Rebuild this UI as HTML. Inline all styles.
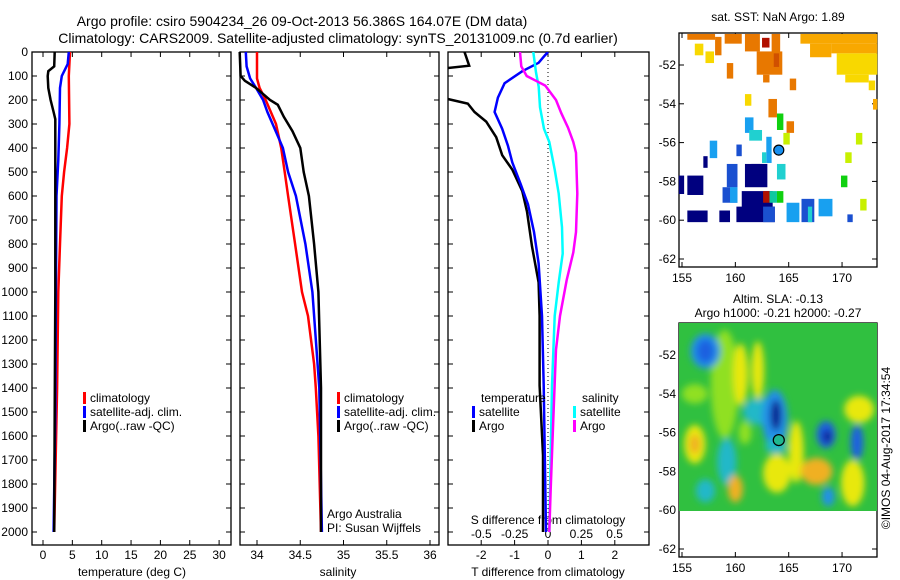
<!DOCTYPE html>
<html><head><meta charset="utf-8"><style>
body{margin:0;background:#fff}
svg{display:block;font-family:"Liberation Sans",sans-serif}
text{fill:#000}
</style></head><body>
<svg id="c" width="900" height="580" viewBox="0 0 900 580" xmlns="http://www.w3.org/2000/svg">
<defs>
<filter id="blur" x="-50%" y="-50%" width="200%" height="200%"><feGaussianBlur stdDeviation="3.5"/></filter>
<clipPath id="clipSla"><rect x="679" y="323" width="198" height="188"/></clipPath>
<clipPath id="clipP3"><rect x="448" y="52" width="201" height="493"/></clipPath>
</defs>
<text x="302" y="26" font-size="14" text-anchor="middle">Argo profile: csiro 5904234_26 09-Oct-2013 56.386S 164.07E (DM data)</text>
<text x="338" y="43" font-size="14" text-anchor="middle">Climatology: CARS2009. Satellite-adjusted climatology: synTS_20131009.nc (0.7d earlier)</text>
<g id="g"></g>
<text transform="translate(890,448) rotate(-90)" font-size="12" text-anchor="middle">©IMOS 04-Aug-2017 17:34:54</text>
</svg>
<script>
// ---- profile data (depth m) ----
const tClimD=[0,100,300,400,500,600,800,1000,1400,2000];
const tClimV=[4.6,4.4,4.5,4.1,3.6,3.2,2.9,2.6,2.4,1.9];
const tSatD=[0,50,100,150,300,450,600,1000,1500,2000];
const tSatV=[4.4,4.2,3.2,2.9,2.8,2.6,2.3,2.2,2.1,1.8];
const tArgoD=[0,60,80,100,150,200,250,280,600,1000,1500,2000];
const tArgoV=[2.0,1.9,0.9,0.8,0.9,1.3,1.8,2.1,2.1,2.1,2.0,1.9];
const sClimD=[0,110,150,200,300,400,500,600,800,1000,1100,1300,1400,1600,2000];
const sClimV=[34.0,34.0,34.03,34.1,34.22,34.28,34.32,34.36,34.44,34.52,34.59,34.66,34.68,34.71,34.74];
const sSatD=[0,60,110,150,200,250,300,350,400,500,600,800,1000,1400,2000];
const sSatV=[33.87,33.88,33.92,33.99,34.07,34.12,34.18,34.24,34.3,34.36,34.45,34.56,34.64,34.72,34.75];
const sArgoD=[0,100,120,150,200,220,270,330,400,500,600,800,1000,1400,2000];
const sArgoV=[33.8,33.81,33.86,33.99,34.15,34.24,34.31,34.41,34.5,34.54,34.6,34.66,34.71,34.74,34.74];
const dTSatD=[0,15,45,80,130,190,250,320,390,460,550,635,750,880,1100,1390,2000];
const dTSatV=[0,-0.1,-0.28,-0.77,-1.3,-1.5,-1.6,-1.37,-1.2,-1.07,-0.82,-0.6,-0.42,-0.28,-0.18,-0.13,-0.06];
const dTArgoD=[0,57,70,90,180,194,215,250,290,355,430,490,580,665,810,960,1100,1390,1680,2000];
const dTArgoV=[-2.5,-2.36,-3.2,-3.5,-3.5,-3.05,-2.4,-2.2,-1.85,-1.55,-1.37,-1.07,-0.77,-0.63,-0.48,-0.28,-0.25,-0.25,-0.15,-0.15];
const dSSatD=[0,85,145,230,320,375,490,590,730,840,960,1100,1390,1680,2000];
const dSSatV=[-0.11,-0.09,-0.07,-0.06,-0.03,0.01,0.05,0.08,0.105,0.11,0.08,0.05,0.03,0.02,0.01];
const dSArgoD=[0,60,100,120,140,200,255,315,375,420,590,750,835,950,1100,1240,1530,1820,2000];
const dSArgoV=[-0.21,-0.2,-0.16,-0.09,-0.02,0.06,0.1,0.15,0.19,0.21,0.22,0.21,0.19,0.14,0.09,0.06,0.04,0.02,0.01];
const depthTicks=[0,100,200,300,400,500,600,700,800,900,1000,1100,1200,1300,1400,1500,1600,1700,1800,1900,2000];
const tTicks=[0,5,10,15,20,25,30];
const sTicks=[34,34.5,35,35.5,36];
const dTTicks=[-2,-1,0,1,2];
const dSTicks=[-0.5,-0.25,0,0.25,0.5];
const dSTickLabels=['-0.5','-0.25','0','0.25','0.5'];
// ---- SST map cells [lon1,lon2,latTop,latBottom,value] ----
const sstCells=[[155.5,158.1,-50.4,-50.7,8],[158.1,158.7,-50.55,-51.5,8],[156.2,157.0,-50.9,-51.5,6.5],[157.2,158.0,-51.3,-51.9,6.5],[159.2,159.8,-51.9,-52.7,8],[159.0,160.6,-50.4,-50.9,8],[160.9,162.3,-50.4,-51.3,8],[162.5,163.2,-50.6,-51.1,10],[162.0,164.4,-51.3,-52.5,8.3],[163.4,164.2,-50.4,-51.4,8.3],[163.6,164.1,-51.4,-52.1,9.5],[162.6,163.2,-52.5,-52.9,8],[165.1,165.7,-52.7,-53.3,8],[166.1,173.3,-50.4,-50.9,7.6],[167.0,169.0,-50.9,-51.6,7.6],[169.0,173.3,-50.9,-51.4,7.3],[169.5,173.3,-51.4,-52.5,6.8],[170.3,172.5,-52.5,-52.9,6.8],[172.5,173.1,-52.8,-53.3,6.5],[172.9,173.3,-53.75,-54.3,7.8],[160.9,161.5,-53.5,-54.1,6.3],[163.1,163.9,-53.75,-54.7,8],[163.9,164.5,-54.5,-55.35,4.5],[164.8,165.5,-54.9,-55.5,8],[164.5,165.1,-55.5,-56.1,6],[160.9,161.7,-54.7,-55.5,2.8],[161.3,162.5,-55.35,-55.9,3.2],[162.9,163.4,-55.7,-57.05,2],[162.5,162.9,-56.5,-57.05,3.4],[157.6,158.3,-55.9,-56.8,2.3],[160.1,160.6,-56.1,-56.7,1.2],[157.0,157.4,-56.7,-57.3,0.2],[159.2,160.2,-57.1,-58.3,1.1],[160.9,163.0,-57.1,-58.3,0.9],[161.5,162.3,-57.1,-57.7,0.2],[163.9,164.7,-57.1,-57.9,3.2],[154.7,155.2,-57.7,-58.65,0.3],[155.5,157.0,-57.7,-58.7,0],[158.8,160.2,-58.3,-59.1,1.1],[159.5,160.2,-58.3,-59.1,2],[160.6,163.5,-58.5,-59.6,0.2],[162.6,163.2,-58.5,-59.1,10],[163.2,163.9,-58.5,-59.1,3.5],[163.9,164.5,-58.5,-59.1,4.5],[155.5,157.4,-59.5,-60.1,0],[158.5,159.5,-59.5,-60.1,0],[160.1,163.7,-59.3,-60.1,0.3],[162.6,163.7,-59.3,-60.1,1.5],[164.8,166.0,-59.1,-60.1,2],[166.2,167.4,-58.9,-60.1,1.5],[166.8,167.2,-59.3,-60.1,3],[167.8,169.1,-58.9,-59.8,2.2],[169.9,170.5,-57.7,-58.3,4.5],[170.3,170.9,-56.5,-57.05,5.6],[171.3,171.9,-55.5,-56.1,5.8],[171.7,172.3,-58.9,-59.5,5.8],[170.5,171.0,-59.7,-60.1,1.3]];
// ---- SLA blobs [lon,lat,rLon,rLat,value] ----
const slaBlobs=[[159,-53.5,1.3,2.8,0.25],[156.2,-54,1.2,0.5,0.25],[157.2,-51.8,1.4,0.9,-0.3],[157.2,-51.8,0.8,0.6,-0.55],[162.3,-54.9,1.6,0.7,-0.15],[163.7,-55.3,1.2,1.5,-0.35],[163.8,-55.1,0.5,0.8,-0.85],[159.2,-57.5,0.9,1.2,-0.15],[157.2,-59,0.9,0.6,-0.12],[156.2,-56.6,1.0,1.0,0.4],[156.2,-56.6,0.5,0.5,0.55],[160.5,-53.0,0.7,1.6,0.4],[162.1,-52.8,0.6,1.5,0.35],[160.9,-56.0,0.6,0.6,0.25],[160.0,-58.9,0.7,0.7,0.5],[163.9,-58.1,1.3,1.0,0.45],[165.7,-57.0,0.7,1.6,0.35],[167.6,-58.0,1.5,0.7,0.5],[171.0,-58.6,1.1,1.2,0.4],[171.6,-54.8,1.4,0.7,0.45],[168.5,-56.1,0.9,0.7,-0.45],[168.6,-56.2,0.4,0.35,-0.7],[171.4,-56.5,0.6,0.9,-0.45],[168.7,-59.3,0.6,0.5,-0.35],[163.8,-56.7,1.0,0.4,-0.12]];
const argoLon=164.07, argoLat=-56.386;

const NS='http://www.w3.org/2000/svg';
const g=document.getElementById('g');
function el(tag,attrs,parent){const e=document.createElementNS(NS,tag);for(const k in attrs)e.setAttribute(k,attrs[k]);(parent||g).appendChild(e);return e;}
function txt(x,y,s,size,anchor,parent){const e=el('text',{x:x,y:y,'font-size':size,'text-anchor':anchor||'start'},parent);e.textContent=s;return e;}
const yD=d=>52+d*0.24;
const xT=t=>43+t*5.87;
const xS=s=>257+(s-34)*86.5;
const xDT=t=>548+t*33.4;
const xDS=s=>548+s*133.3;
const PB=545;
const panels=[{x0:32,x1:231,name:'temperature-panel'},{x0:240,x1:439,name:'salinity-panel'},{x0:448,x1:649,name:'difference-panel'}];
panels.forEach(p=>{
 const r=el('rect',{x:p.x0,y:52,width:p.x1-p.x0,height:PB-52,fill:'none',stroke:'#000','stroke-width':1.3});
 
 
 depthTicks.forEach(d=>{el('line',{x1:p.x0,x2:p.x0+5,y1:yD(d),y2:yD(d),stroke:'#000'});el('line',{x1:p.x1,x2:p.x1-5,y1:yD(d),y2:yD(d),stroke:'#000'});});
});
depthTicks.forEach(d=>{const t=txt(28,yD(d)+4,String(d),12,'end');});
function xticks(vals,fx,labels,ly){vals.forEach((v,i)=>{const x=fx(v);el('line',{x1:x,x2:x,y1:PB,y2:PB-5,stroke:'#000'});el('line',{x1:x,x2:x,y1:52,y2:57,stroke:'#000'});const t=txt(x,ly,labels?labels[i]:String(v),12,'middle');});}
xticks(tTicks,xT,null,559);xticks(sTicks,xS,null,559);xticks(dTTicks,xDT,null,559);
dSTicks.forEach((v,i)=>{const t=txt(xDS(v),538,dSTickLabels[i],12,'middle');});
let t;
t=txt(132,576,'temperature (deg C)',12,'middle');
t=txt(338,576,'salinity',12,'middle');
t=txt(548,576,'T difference from climatology',12,'middle');
t=txt(548,524,'S difference from climatology',12,'middle');
function line(D,V,fx,color,name,clip){const pts=D.map((d,i)=>fx(V[i]).toFixed(1)+','+yD(d).toFixed(1)).join(' ');const a={points:pts,fill:'none',stroke:color,'stroke-width':2.5};if(clip)a['clip-path']='url(#clipP3)';const e=el('polyline',a);}
line(tClimD,tClimV,xT,'#f00','temp-climatology-line');
line(tSatD,tSatV,xT,'#00f','temp-satellite-line');
line(tArgoD,tArgoV,xT,'#000','temp-argo-line');
line(sClimD,sClimV,xS,'#f00','sal-climatology-line');
line(sSatD,sSatV,xS,'#00f','sal-satellite-line');
line(sArgoD,sArgoV,xS,'#000','sal-argo-line');
const z=el('line',{x1:xDT(0),x2:xDT(0),y1:52,y2:yD(2000),stroke:'#000','stroke-dasharray':'1,3'});
line(dTArgoD,dTArgoV,xDT,'#000','t-diff-argo-line',true);
line(dTSatD,dTSatV,xDT,'#00f','t-diff-satellite-line',true);
line(dSSatD,dSSatV,xDS,'#0ff','s-diff-satellite-line',true);
line(dSArgoD,dSArgoV,xDS,'#f0f','s-diff-argo-line',true);
function legend(x,y,color,label){const b=el('rect',{x:x,y:y-10,width:3,height:12,fill:color});const tt=txt(x+7,y,label,12,'start');}
legend(83,402,'#f00','climatology');legend(83,416,'#00f','satellite-adj. clim.');legend(83,430,'#000','Argo(..raw -QC)');
legend(337,402,'#f00','climatology');legend(337,416,'#00f','satellite-adj. clim.');legend(337,430,'#000','Argo(..raw -QC)');
t=txt(481,402,'temperature',12,'start');
t=txt(582,402,'salinity',12,'start');
legend(472,416,'#00f','satellite');legend(472,430,'#000','Argo');legend(573,416,'#0ff','satellite');legend(573,430,'#f0f','Argo');
t=txt(327,518,'Argo Australia',12,'start');
t=txt(327,532,'PI: Susan Wijffels',12,'start');

// ---- maps ----
const mLon=lo=>682+(lo-155)*10.67;
function mapFrame(top,bottom,lat52y,name,titleLines,titleY){
 const mLat=la=>lat52y+(-52-la)*19.4;
 const r=el('rect',{x:679,y:top,width:198,height:bottom-top,fill:'none',stroke:'#000','stroke-width':1.3});
 
 [-52,-54,-56,-58,-60,-62].forEach(la=>{const y=mLat(la);el('line',{x1:679,x2:684,y1:y,y2:y,stroke:'#000'});el('line',{x1:877,x2:872,y1:y,y2:y,stroke:'#000'});const tt=txt(676,y+4,String(la),12,'end');});
 [155,160,165,170].forEach(lo=>{const x=mLon(lo);el('line',{x1:x,x2:x,y1:bottom,y2:bottom-5,stroke:'#000'});el('line',{x1:x,x2:x,y1:top,y2:top+5,stroke:'#000'});const tt=txt(x,bottom+15,String(lo),12,'middle');});
 titleLines.forEach((s,i)=>{const tt=txt(778,titleY+i*14,s,12,'middle');});
 return mLat;
}
function sstColor(v){const st=[[0,'#00007f'],[1,'#1a50d0'],[2,'#18a0f0'],[3,'#20d0d0'],[3.5,'#10c8a0'],[4.5,'#10d010'],[5.5,'#c8f000'],[6.3,'#f8d800'],[7,'#f8a800'],[8,'#e87800'],[9,'#d05000'],[10,'#b01000']];let c=st[0][1];st.forEach(s=>{if(v>=s[0])c=s[1];});return c;}
const lat1=mapFrame(33,267,65,'sst-map',['sat. SST: NaN Argo: 1.89'],21);
sstCells.forEach(c=>{const x=mLon(c[0]),y=lat1(c[2]);const r=el('rect',{x:x,y:y,width:mLon(c[1])-x,height:lat1(c[3])-y,fill:sstColor(c[4])});});
let ac=el('circle',{cx:mLon(argoLon),cy:lat1(argoLat),r:5,fill:'#1890f0',stroke:'#000','stroke-width':1.2});
const lat2=mapFrame(323,557,355,'sla-map',['Altim. SLA: -0.13','Argo h1000: -0.21 h2000: -0.27'],303);
const slaG=el('g',{'clip-path':'url(#clipSla)'});
const base=el('rect',{x:679,y:323,width:198,height:188,fill:'#30c040'},slaG);
const blurG=el('g',{filter:'url(#blur)'},slaG);
function slaColor(v){const st=[[-9,'#101a90'],[-0.6,'#1a60e0'],[-0.4,'#2090e8'],[-0.25,'#20b8c8'],[-0.1,'#18b070'],[0.2,'#90e020'],[0.35,'#e8e810'],[0.5,'#f0b020']];let c=st[0][1];st.forEach(s=>{if(v>=s[0])c=s[1];});return c;}
slaBlobs.forEach(b=>{const e=el('ellipse',{cx:mLon(b[0]),cy:lat2(b[1]),rx:b[2]*10.67,ry:b[3]*19.4,fill:slaColor(b[4])},blurG);});
ac=el('circle',{cx:mLon(argoLon),cy:lat2(argoLat),r:5.5,fill:'#20b890',stroke:'#000','stroke-width':1.2});
</script>
</body></html>
